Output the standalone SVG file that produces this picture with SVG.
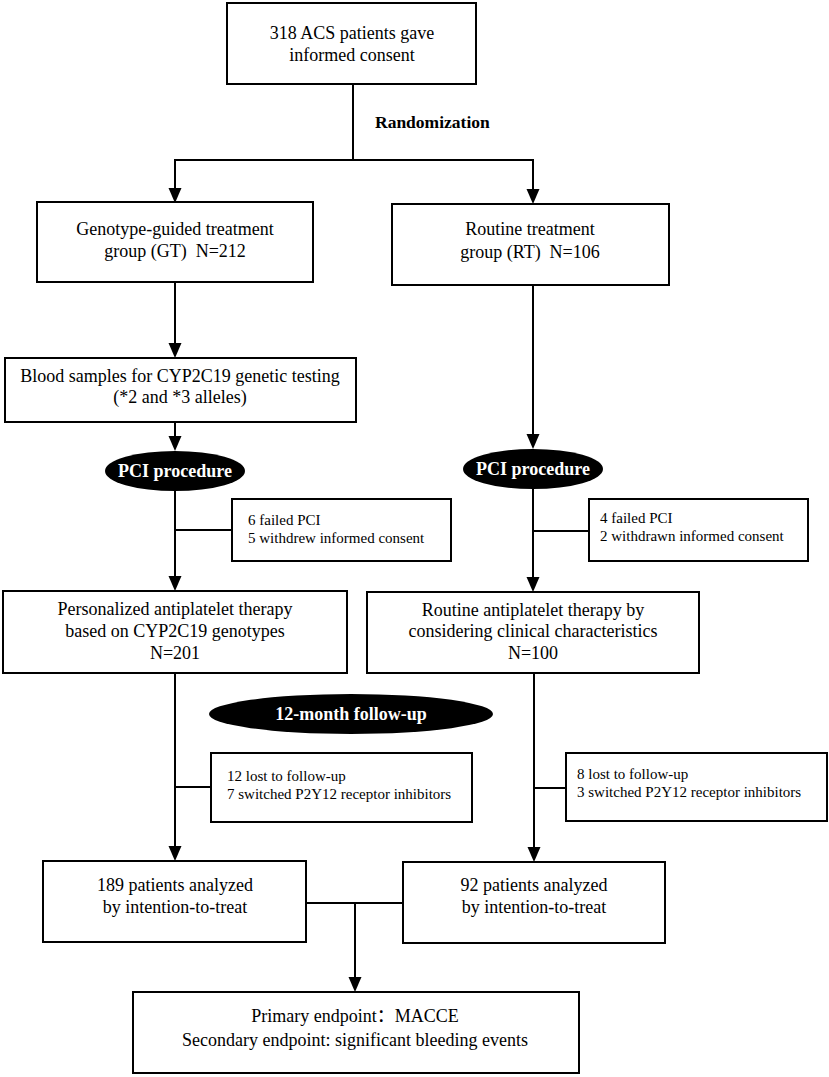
<svg xmlns="http://www.w3.org/2000/svg" width="829" height="1077" viewBox="0 0 829 1077">
<style>
.box{fill:#fff;stroke:#000;stroke-width:2}
.ell{fill:#000;stroke:none}
.ln{fill:none;stroke:#000;stroke-width:2}
.t{font-family:"Liberation Serif","Noto Sans CJK SC",serif;font-size:18px;fill:#000}
.c{text-anchor:middle}
.s{font-family:"Liberation Serif","Noto Sans CJK SC",serif;font-size:15px;fill:#000}
.b{font-family:"Liberation Serif",serif;font-weight:bold;font-size:18px;fill:#fff;text-anchor:middle}
.r{font-family:"Liberation Serif",serif;font-weight:bold;font-size:17.5px;fill:#000}
</style>
<defs>
<marker id="arr" markerUnits="userSpaceOnUse" markerWidth="16" markerHeight="14" refX="11" refY="6.5" orient="auto">
<path d="M0,0 L15,6.5 L0,13 z" fill="#000"/>
</marker>
</defs>
<rect width="829" height="1077" fill="#fff"/>
<g id="connectors">
<line class="ln" x1="353" y1="84" x2="353" y2="160"/>
<polyline class="ln" points="175,160 533,160"/>
<line class="ln" x1="175" y1="159" x2="175" y2="199" marker-end="url(#arr)"/>
<line class="ln" x1="533" y1="159" x2="533" y2="200" marker-end="url(#arr)"/>
<line class="ln" x1="175" y1="282" x2="175" y2="354" marker-end="url(#arr)"/>
<line class="ln" x1="175" y1="422" x2="175" y2="447" marker-end="url(#arr)"/>
<line class="ln" x1="533" y1="285" x2="533" y2="445" marker-end="url(#arr)"/>
<line class="ln" x1="175" y1="490" x2="175" y2="587" marker-end="url(#arr)"/>
<line class="ln" x1="175" y1="530" x2="232" y2="530"/>
<line class="ln" x1="533" y1="488" x2="533" y2="588" marker-end="url(#arr)"/>
<line class="ln" x1="533" y1="531" x2="589" y2="531"/>
<line class="ln" x1="175" y1="673" x2="175" y2="857" marker-end="url(#arr)"/>
<line class="ln" x1="175" y1="787" x2="211" y2="787"/>
<line class="ln" x1="534" y1="673" x2="534" y2="858" marker-end="url(#arr)"/>
<line class="ln" x1="534" y1="788" x2="566" y2="788"/>
<line class="ln" x1="306" y1="903" x2="403" y2="903"/>
<line class="ln" x1="355" y1="903" x2="355" y2="988" marker-end="url(#arr)"/>
<text class="r" x="375" y="128">Randomization</text>
</g>
<g id="consent">
<rect class="box" x="227" y="3" width="249" height="81"/>
<text class="t c" x="352" y="39">318 ACS patients gave</text>
<text class="t c" x="352" y="61">informed consent</text>
</g>
<g id="gt">
<rect class="box" x="37" y="202" width="276" height="80"/>
<text class="t c" x="175" y="235">Genotype-guided treatment</text>
<text class="t c" x="175" y="257" xml:space="preserve">group (GT)  N=212</text>
</g>
<g id="rt">
<rect class="box" x="392" y="204" width="277" height="81"/>
<text class="t c" x="530" y="235">Routine treatment</text>
<text class="t c" x="530" y="258" xml:space="preserve">group (RT)  N=106</text>
</g>
<g id="blood">
<rect class="box" x="5" y="358" width="351" height="64"/>
<text class="t c" x="180" y="382">Blood samples for CYP2C19 genetic testing</text>
<text class="t c" x="180" y="403">(*2 and *3 alleles)</text>
</g>
<g id="pci-left">
<ellipse class="ell" cx="175" cy="471" rx="70" ry="20"/>
<text class="b" x="175" y="477">PCI procedure</text>
</g>
<g id="pci-right">
<ellipse class="ell" cx="533" cy="469" rx="70" ry="20"/>
<text class="b" x="533" y="475">PCI procedure</text>
</g>
<g id="drop-left">
<rect class="box" x="232" y="499" width="219" height="62"/>
<text class="s" x="248" y="525">6 failed PCI</text>
<text class="s" x="248" y="543">5 withdrew informed consent</text>
</g>
<g id="drop-right">
<rect class="box" x="589" y="499" width="219" height="62"/>
<text class="s" x="600" y="523">4 failed PCI</text>
<text class="s" x="600" y="541">2 withdrawn informed consent</text>
</g>
<g id="personalized">
<rect class="box" x="3" y="591" width="344" height="82"/>
<text class="t c" x="175" y="615">Personalized antiplatelet therapy</text>
<text class="t c" x="175" y="637">based on CYP2C19 genotypes</text>
<text class="t c" x="175" y="659">N=201</text>
</g>
<g id="routine">
<rect class="box" x="367" y="592" width="332" height="81"/>
<text class="t c" x="533" y="616">Routine antiplatelet therapy by</text>
<text class="t c" x="533" y="637">considering clinical characteristics</text>
<text class="t c" x="533" y="659">N=100</text>
</g>
<g id="followup">
<ellipse class="ell" cx="351" cy="714" rx="142" ry="20"/>
<text class="b" x="351" y="720">12-month follow-up</text>
</g>
<g id="lost-left">
<rect class="box" x="211" y="753" width="261" height="69"/>
<text class="s" x="227" y="781">12 lost to follow-up</text>
<text class="s" x="227" y="799">7 switched P2Y12 receptor inhibitors</text>
</g>
<g id="lost-right">
<rect class="box" x="566" y="753" width="261" height="68"/>
<text class="s" x="577" y="779">8 lost to follow-up</text>
<text class="s" x="577" y="797">3 switched P2Y12 receptor inhibitors</text>
</g>
<g id="itt-left">
<rect class="box" x="43" y="861" width="263" height="81"/>
<text class="t c" x="175" y="891">189 patients analyzed</text>
<text class="t c" x="175" y="913">by intention-to-treat</text>
</g>
<g id="itt-right">
<rect class="box" x="403" y="862" width="262" height="81"/>
<text class="t c" x="534" y="891">92 patients analyzed</text>
<text class="t c" x="534" y="913">by intention-to-treat</text>
</g>
<g id="endpoints">
<rect class="box" x="133" y="992" width="446" height="81"/>
<text class="t c" x="355" y="1022">Primary endpoint：MACCE</text>
<text class="t c" x="355" y="1046">Secondary endpoint: significant bleeding events</text>
</g>
</svg>
